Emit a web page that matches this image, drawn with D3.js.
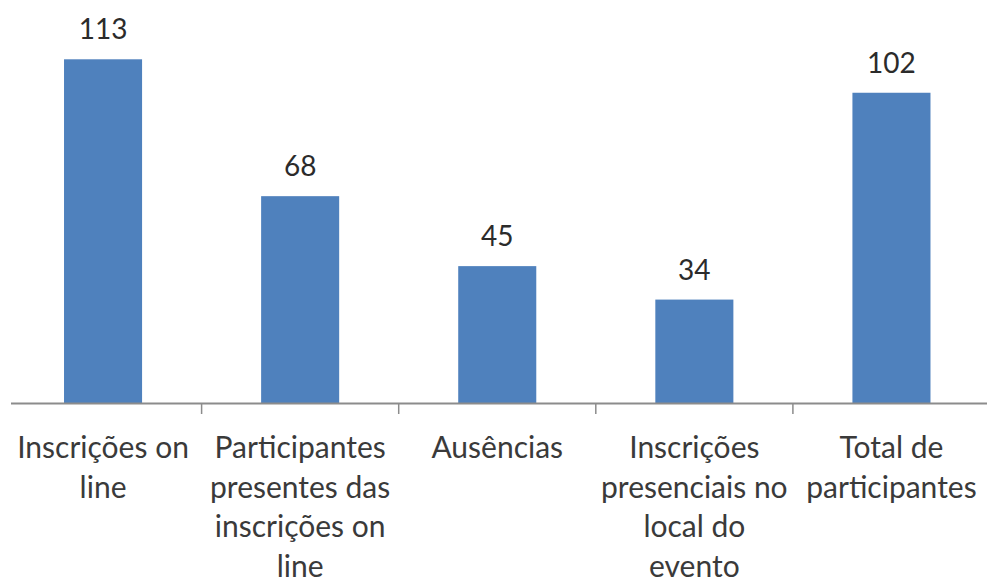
<!DOCTYPE html>
<html>
<head>
<meta charset="utf-8">
<script src="https://cdn.jsdelivr.net/npm/d3@7"></script>
<style>
  html, body { margin: 0; padding: 0; background: #ffffff; }
  svg { display: block; }
</style>
</head>
<body>
<svg id="chart" width="987" height="584"></svg>
<script>
// Categories (each label split into its wrapped lines)
const categories = [
  "Inscrições on line",
  "Participantes presentes das inscrições on line",
  "Ausências",
  "Inscrições presenciais no local do evento",
  "Total de participantes"
];
const labelLines = [
  ["Inscrições on", "line"],
  ["Participantes", "presentes das", "inscrições on", "line"],
  ["Ausências"],
  ["Inscrições", "presenciais no", "local do", "evento"],
  ["Total de", "participantes"]
];
const values = [113, 68, 45, 34, 102];

const width = 987, height = 584;
const baseY = 403;
const fontFamily = "Lato, 'Open Sans', 'DejaVu Sans', sans-serif";

const svg = d3.select("#chart");

const pad = 0.604;
const x = d3.scaleBand()
  .domain(categories)
  .range([4.5, 990])
  .paddingInner(pad)
  .paddingOuter(pad / 2);

const y = d3.scaleLinear()
  .domain([0, 120])
  .range([baseY, 38]);

// Bars
svg.append("g")
  .selectAll("rect")
  .data(values)
  .join("rect")
  .attr("x", (d, i) => x(categories[i]))
  .attr("y", d => y(d))
  .attr("width", x.bandwidth())
  .attr("height", d => y(0) - y(d))
  .attr("fill", "#4f81bd");

// Category axis: line at the baseline, ticks between categories
const axis = svg.append("g").attr("class", "x-axis");
axis.append("line")
  .attr("x1", 11).attr("x2", width)
  .attr("y1", baseY + 0.5).attr("y2", baseY + 0.5)
  .attr("stroke", "#8c8c8c").attr("stroke-width", 2);

const step = x.step();
const boundaries = categories.slice(1).map(c => x(c) - (step - x.bandwidth()) / 2);
axis.selectAll("line.tick")
  .data(boundaries)
  .join("line")
  .attr("class", "tick")
  .attr("x1", d => d).attr("x2", d => d)
  .attr("y1", baseY).attr("y2", baseY + 11)
  .attr("stroke", "#8c8c8c").attr("stroke-width", 1.5);

// Category labels
const labels = axis.selectAll("text.cat")
  .data(labelLines)
  .join("text")
  .attr("class", "cat")
  .attr("text-anchor", "middle")
  .attr("font-family", fontFamily)
  .attr("font-size", 30)
  .attr("fill", "#3a3a3a");

labels.each(function (lines, i) {
  const cx = x(categories[i]) + x.bandwidth() / 2;
  d3.select(this).selectAll("tspan")
    .data(lines)
    .join("tspan")
    .attr("x", cx)
    .attr("y", (d, j) => 458 + j * 39.5)
    .text(d => d);
});

// Value labels above bars
svg.append("g")
  .selectAll("text")
  .data(values)
  .join("text")
  .attr("x", (d, i) => x(categories[i]) + x.bandwidth() / 2)
  .attr("y", d => y(d) - 20)
  .attr("text-anchor", "middle")
  .attr("font-family", fontFamily)
  .attr("font-size", 28)
  .attr("fill", "#2b2b2b")
  .text(d => d);
</script>
</body>
</html>
